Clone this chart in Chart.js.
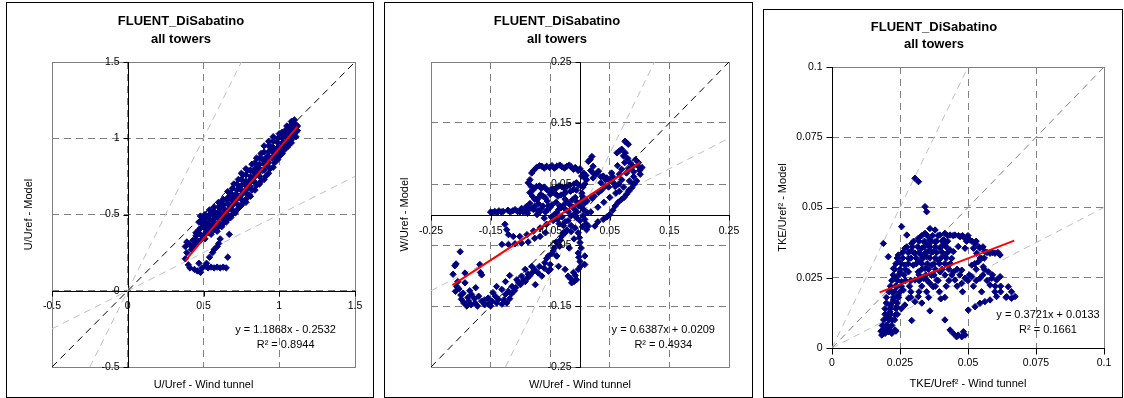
<!DOCTYPE html>
<html><head><meta charset="utf-8">
<script src="https://cdn.jsdelivr.net/npm/chart.js@4.4.1/dist/chart.umd.min.js"></script>
<style>
html,body{margin:0;padding:0;background:#fff;width:1124px;height:398px;overflow:hidden;}
.panel{position:absolute;border:1px solid #000;background:#fff;}
.panel canvas{display:block;}
</style></head><body>
<div class="panel" style="left:6px;top:2px;width:366px;height:394px"><canvas id="c1" width="366" height="394"></canvas></div>
<div class="panel" style="left:384px;top:2px;width:367px;height:394px"><canvas id="c2" width="367" height="394"></canvas></div>
<div class="panel" style="left:763px;top:9px;width:358px;height:387px"><canvas id="c3" width="358" height="387"></canvas></div>
<script>
// ---------- shared text ----------
const chartTitle = ['FLUENT_DiSabatino', 'all towers'];

// ---------- Panel 1 : U/Uref ----------
const uTicks = [-0.5, 0, 0.5, 1, 1.5];
const uTickLabels = ['-0.5', '0', '0.5', '1', '1.5'];
const uAxisTitles = ['U/Uref - Wind tunnel', 'U/Uref - Model'];
const uSlope = 1.1868, uIntercept = -0.2532;
const uTrendX = [0.38, 1.12];
const uEquation = ['y = 1.1868x - 0.2532', 'R² = 0.8944'];
const uPoints = [
 [0.38,0.21],[0.39,0.25],[0.38,0.29],[0.39,0.32],[0.41,0.30],[0.42,0.27],[0.43,0.33],[0.44,0.29],[0.45,0.36],[0.46,0.32],
 [0.47,0.40],[0.47,0.45],[0.48,0.49],[0.49,0.36],[0.50,0.42],[0.50,0.47],[0.51,0.34],[0.52,0.39],[0.52,0.48],[0.53,0.44],
 [0.54,0.50],[0.55,0.37],[0.55,0.41],[0.56,0.46],[0.57,0.52],[0.58,0.43],[0.58,0.49],[0.59,0.39],[0.60,0.45],[0.60,0.55],
 [0.61,0.50],[0.62,0.42],[0.62,0.58],[0.63,0.47],[0.64,0.53],[0.65,0.45],[0.65,0.60],[0.66,0.50],[0.67,0.56],[0.68,0.48],
 [0.68,0.64],[0.69,0.53],[0.70,0.60],[0.70,0.70],[0.71,0.51],[0.72,0.57],[0.72,0.66],[0.73,0.73],[0.74,0.55],[0.74,0.62],
 [0.75,0.69],[0.76,0.58],[0.76,0.76],[0.77,0.65],[0.78,0.72],[0.78,0.60],[0.79,0.79],[0.80,0.63],[0.80,0.69],[0.81,0.75],
 [0.82,0.83],[0.82,0.66],[0.83,0.72],[0.84,0.80],[0.85,0.69],[0.85,0.87],[0.86,0.76],[0.87,0.83],[0.88,0.72],[0.88,0.90],
 [0.89,0.79],[0.90,0.86],[0.90,0.95],[0.91,0.75],[0.92,0.82],[0.93,0.91],[0.93,0.98],[0.94,0.80],[0.95,0.87],[0.96,0.94],
 [0.96,1.01],[0.97,0.84],[0.98,0.90],[0.99,0.97],[1.00,0.88],[1.00,1.03],[1.01,0.94],[1.02,1.00],[1.03,0.92],[1.04,0.97],
 [1.04,1.05],[1.05,1.01],[1.06,0.95],[1.07,1.04],[1.07,1.08],[1.08,0.99],[1.09,1.03],[1.09,1.10],[1.10,1.06],[1.11,1.01],
 [1.11,1.09],[1.12,1.05],[1.12,1.08],[1.10,1.12],
 [0.53,0.38],[0.57,0.44],[0.64,0.49],[0.69,0.59],[0.75,0.63],[0.79,0.67],[0.84,0.75],[0.87,0.78],[0.92,0.88],[0.97,0.92],
 [1.02,0.97],[0.61,0.54],[0.66,0.57],[0.71,0.63],[0.77,0.70],[0.83,0.78],[0.86,0.82],[0.91,0.84],[0.95,0.93],[0.99,0.91],
 [1.03,1.02],[0.49,0.44],[0.56,0.50],[0.63,0.56],[0.67,0.62],[0.73,0.67],[0.81,0.71],[0.89,0.86],[0.94,0.95],[1.05,1.06],
 [0.45,0.31],[0.45,0.34],[0.45,0.38],[0.48,0.33],[0.48,0.37],[0.48,0.41],[0.48,0.46],[0.51,0.37],[0.51,0.41],[0.51,0.45],
 [0.51,0.50],[0.54,0.39],[0.54,0.43],[0.54,0.47],[0.54,0.53],[0.57,0.40],[0.57,0.47],[0.57,0.50],[0.57,0.55],[0.60,0.42],
 [0.60,0.48],[0.60,0.52],[0.60,0.58],[0.63,0.44],[0.63,0.50],[0.63,0.54],[0.63,0.60],[0.66,0.47],[0.66,0.53],[0.66,0.60],
 [0.66,0.65],[0.69,0.50],[0.69,0.56],[0.69,0.62],[0.69,0.67],[0.72,0.53],[0.72,0.60],[0.72,0.63],[0.72,0.70],[0.75,0.56],
 [0.75,0.60],[0.75,0.66],[0.75,0.73],[0.75,0.77],[0.78,0.58],[0.78,0.64],[0.78,0.69],[0.78,0.76],[0.78,0.80],[0.81,0.62],
 [0.81,0.68],[0.81,0.73],[0.81,0.79],[0.84,0.66],[0.84,0.71],[0.84,0.77],[0.84,0.84],[0.87,0.70],[0.87,0.75],[0.87,0.80],
 [0.87,0.87],[0.90,0.73],[0.90,0.79],[0.90,0.83],[0.90,0.91],[0.93,0.77],[0.93,0.84],[0.93,0.88],[0.93,0.95],[0.96,0.81],
 [0.96,0.88],[0.96,0.91],[0.96,0.98],[0.99,0.86],[0.99,0.94],[0.99,1.00],[1.02,0.90],[1.02,0.95],[1.02,1.04],[1.05,0.94],
 [1.05,0.98],[1.05,1.03],[1.05,1.08],[1.08,0.97],[1.08,1.02],[1.08,1.06],[1.08,1.11],[1.11,1.04],[1.11,1.07],
 [0.40,0.17],[0.41,0.15],[0.44,0.14],[0.46,0.13],[0.48,0.12],[0.49,0.15],[0.51,0.16],[0.53,0.15],[0.55,0.155],[0.57,0.15],
 [0.59,0.155],[0.61,0.15],[0.63,0.155],[0.65,0.15],[0.47,0.18],[0.52,0.18],[0.54,0.22],[0.56,0.25],[0.59,0.29],[0.61,0.34],
 [0.66,0.22],[0.67,0.37],[0.60,0.31],[0.57,0.27]
];
const uOneToOne = [[-0.5,-0.5],[1.5,1.5]];
const uTwoX = [[-0.25,-0.5],[0.75,1.5]];
const uHalfX = [[-0.5,-0.25],[1.5,0.75]];

// ---------- Panel 2 : W/Uref ----------
const wTicks = [-0.25, -0.15, -0.05, 0.05, 0.15, 0.25];
const wTickLabels = ['-0.25', '-0.15', '-0.05', '0.05', '0.15', '0.25'];
const wAxisTitles = ['W/Uref - Wind tunnel', 'W/Uref - Model'];
const wSlope = 0.6387, wIntercept = 0.0209;
const wTrendX = [-0.214, 0.101];
const wEquation = ['y = 0.6387x + 0.0209', 'R² = 0.4934'];
const wPoints = [
 [-0.213,-0.098],[-0.201,-0.061],[-0.208,-0.081],[-0.207,-0.118],[-0.209,-0.126],[-0.196,-0.129],[-0.199,-0.139],[-0.187,-0.142],
 [-0.176,-0.145],[-0.165,-0.142],[-0.154,-0.137],[-0.142,-0.134],[-0.131,-0.147],[-0.123,-0.145],[-0.170,-0.134],[-0.182,-0.131],
 [-0.193,-0.112],[-0.165,-0.099],[-0.146,-0.128],[-0.131,-0.123],[-0.120,-0.126],[-0.114,-0.118],[-0.106,-0.107],[-0.098,-0.101],
 [-0.087,-0.098],[-0.075,-0.115],[-0.070,-0.096],[-0.059,-0.079],[-0.064,-0.101],[-0.053,-0.068],[-0.039,-0.068],[-0.050,-0.090],
 [-0.036,-0.049],[-0.031,-0.036],[-0.022,-0.025],[-0.092,-0.090],[-0.081,-0.085],[-0.154,-0.147],[-0.168,-0.082],[-0.167,-0.095],
 [-0.193,-0.096],[-0.210,-0.084],[-0.160,-0.140],[-0.148,-0.142],[-0.137,-0.139],[-0.125,-0.131],[-0.110,-0.125],[-0.103,-0.112],
 [-0.095,-0.108],[-0.088,-0.104],[-0.079,-0.094],[-0.045,-0.060],[-0.188,-0.136],[-0.177,-0.138],
 [-0.195,-0.145],[-0.190,-0.150],[-0.183,-0.148],[-0.172,-0.150],[-0.160,-0.148],[-0.150,-0.150],[-0.140,-0.145],[-0.128,-0.140],
 [-0.118,-0.138],[-0.200,-0.132],[-0.203,-0.122],[-0.205,-0.110],[-0.185,-0.125],[-0.175,-0.120],
 [-0.115,-0.130],[-0.108,-0.120],[-0.100,-0.115],[-0.092,-0.110],[-0.084,-0.100],[-0.076,-0.090],[-0.068,-0.085],[-0.060,-0.088],
 [-0.056,-0.072],[-0.047,-0.064],[-0.043,-0.055],[-0.040,-0.045],[-0.028,-0.030],[-0.033,-0.042],[-0.125,-0.110],[-0.118,-0.100],
 [-0.140,-0.118],
 [-0.150,0.004],[-0.143,0.005],[-0.136,0.006],[-0.129,0.005],[-0.121,0.007],[-0.113,0.006],[-0.105,0.005],[-0.098,0.010],
 [-0.090,0.013],[-0.084,0.018],[-0.078,0.008],[-0.071,0.006],[-0.147,0.003],[-0.139,0.003],[-0.132,0.004],[-0.117,0.004],
 [-0.109,0.008],[-0.101,0.004],
 [-0.126,-0.016],[-0.123,-0.025],[-0.120,-0.033],[-0.112,-0.036],[-0.101,-0.036],[-0.089,-0.033],[-0.078,-0.027],[-0.067,-0.022],
 [-0.056,-0.016],[-0.045,-0.010],
 [-0.131,-0.049],[-0.120,-0.049],[-0.109,-0.048],[-0.098,-0.047],[-0.087,-0.045],[-0.076,-0.039],[-0.067,-0.036],[-0.058,-0.030],
 [-0.084,0.057],[-0.081,0.068],[-0.073,0.077],[-0.064,0.079],[-0.056,0.079],[-0.047,0.080],[-0.039,0.079],[-0.030,0.078],
 [-0.022,0.079],[-0.008,0.077],[-0.015,0.078],[0.006,0.068],[0.011,0.057],[0.000,0.075],
 [-0.078,0.072],[-0.068,0.080],[-0.060,0.076],[-0.051,0.077],[-0.043,0.076],[-0.034,0.081],[-0.026,0.076],[-0.018,0.081],
 [-0.011,0.074],[-0.003,0.072],[0.003,0.063],[0.008,0.050],[-0.087,0.052],[-0.082,0.046],[-0.079,0.040],
 [-0.073,0.046],[-0.056,0.041],[-0.039,0.044],[-0.022,0.046],[-0.006,0.052],[-0.065,0.043],[-0.047,0.042],[-0.030,0.045],
 [-0.068,0.047],[-0.060,0.045],[-0.052,0.039],[-0.043,0.041],[-0.035,0.047],[-0.026,0.043],[-0.017,0.048],[-0.010,0.050],
 [-0.002,0.048],
 [-0.084,0.036],[-0.076,0.025],[-0.062,0.030],[-0.045,0.036],[-0.028,0.033],[-0.011,0.041],[-0.053,0.014],[-0.034,0.014],
 [-0.022,0.021],[-0.070,0.027],[-0.037,0.030],[-0.080,0.030],[-0.072,0.024],[-0.066,0.033],[-0.058,0.027],[-0.050,0.033],
 [-0.041,0.034],[-0.032,0.032],[-0.024,0.036],[-0.016,0.038],[-0.006,0.040],
 [0.014,0.087],[0.022,0.079],[0.031,0.071],[0.039,0.063],[0.050,0.055],[0.059,0.046],[0.070,0.057],[0.078,0.068],
 [0.089,0.079],[0.098,0.085],[0.104,0.077],[0.101,0.066],[0.095,0.055],[0.087,0.044],[0.078,0.033],[0.070,0.025],
 [0.059,0.014],[0.050,0.000],[0.039,-0.008],[0.025,-0.019],[0.011,-0.025],[0.0755,0.120],[0.081,0.115],[0.070,0.107],
 [0.073,0.096],[0.062,0.101],[0.022,0.068],[0.022,0.060],[0.042,0.046],[0.031,0.036],[0.020,0.027],[0.008,0.019],
 [0.053,0.068],[0.070,0.074],[0.084,0.085],[0.093,0.090],[0.045,0.060],[0.035,0.052],[0.063,0.080],[0.075,0.085],
 [0.060,0.035],[0.050,0.028],[0.040,0.020],[0.030,0.012],[0.018,0.004],[0.014,-0.019],[0.008,-0.008],[0.020,0.095],
 [0.017,0.090],[0.005,0.045],[0.008,0.060],[0.003,0.035],
 [0.010,0.064],[0.018,0.072],[0.027,0.066],[0.035,0.062],[0.043,0.057],[0.055,0.062],[0.066,0.066],[0.082,0.075],
 [0.090,0.070],[0.097,0.080],[0.100,0.072],[0.012,0.022],[0.024,0.030],[0.036,0.040],[0.048,0.045],[0.056,0.052],
 [0.065,0.050],[0.073,0.045],[0.083,0.055],[0.090,0.062],[0.066,0.038],[0.082,0.038],[0.091,0.050],[0.030,-0.012],
 [0.045,-0.004],[0.055,0.007],[0.064,0.020],[0.074,0.028],[0.082,0.040],[0.089,0.050],[0.078,0.118],[0.066,0.104],
 [0.076,0.101],[0.080,0.092],
 [-0.003,-0.030],[0.000,-0.046],[-0.003,-0.063],[0.000,-0.077],[-0.003,-0.090],[-0.006,-0.107],[-0.014,-0.112],[-0.020,-0.101],
 [-0.025,-0.090],[-0.011,-0.095],[0.008,-0.068],[0.008,-0.082],[-0.039,-0.068],[-0.050,-0.082],[-0.053,-0.093],[-0.034,-0.052],
 [-0.036,-0.085],[-0.010,-0.110],[-0.018,-0.055],[-0.010,-0.040],[-0.001,-0.038],[0.002,-0.055],[-0.002,-0.070],[0.001,-0.085],
 [-0.008,-0.100],[-0.016,-0.105],[0.004,-0.020],[0.010,-0.015],[-0.025,-0.030],[-0.015,-0.028],[-0.008,-0.022],
 [-0.095,0.004],[-0.088,0.002],[-0.080,0.010],[-0.072,0.000],[-0.065,0.010],[-0.058,0.004],[-0.050,0.012],[-0.043,0.000],
 [-0.036,0.008],[-0.028,0.015],[-0.020,0.005],[-0.012,0.012],[-0.005,0.020],[0.003,0.012],[-0.060,-0.006],[-0.030,-0.004],
 [-0.015,-0.002],[-0.008,0.028],[0.004,0.030],[-0.070,0.018],[-0.055,0.022],[-0.040,0.020],[-0.025,0.025],[0.012,0.003],
 [-0.005,0.004],[-0.035,-0.015],[-0.025,-0.012],[-0.015,-0.018],[0.000,-0.010],[-0.010,0.000],[0.005,-0.002],
 [-0.092,0.007],[-0.085,0.009],[-0.076,0.013],[-0.068,0.004],[-0.062,0.014],[-0.054,0.008],[-0.047,0.016],[-0.039,0.003],
 [-0.032,0.011],[-0.024,0.008],[-0.017,0.016],[-0.009,0.008],[-0.002,0.014],[0.006,0.008],[-0.048,-0.004],[-0.038,-0.008],
 [-0.028,-0.018],[-0.020,-0.010],[-0.006,-0.005],[0.003,0.022],[-0.013,0.024]
];
const wOneToOne = [[-0.25,-0.25],[0.25,0.25]];
const wTwoX = [[-0.125,-0.25],[0.125,0.25]];
const wHalfX = [[-0.25,-0.125],[0.25,0.125]];

// ---------- Panel 3 : TKE/Uref² ----------
const kTicks = [0, 0.025, 0.05, 0.075, 0.1];
const kTickLabels = ['0', '0.025', '0.05', '0.075', '0.1'];
const kAxisTitles = ['TKE/Uref² - Wind tunnel', 'TKE/Uref² - Model'];
const kSlope = 0.3721, kIntercept = 0.0133;
const kTrendX = [0.0175, 0.067];
const kEquation = ['y = 0.3721x + 0.0133', 'R² = 0.1661'];
const kPoints = [
 [0.0305,0.0604],[0.0318,0.0592],[0.0342,0.0503],[0.0348,0.0485],[0.0256,0.0432],[0.0275,0.0402],[0.0189,0.0372],[0.0207,0.0325],
 [0.0244,0.0331],[0.0268,0.0355],[0.0293,0.0372],[0.0317,0.0390],[0.0342,0.0408],[0.0360,0.0425],[0.0379,0.0420],[0.0397,0.0402],
 [0.0415,0.0408],[0.0434,0.0402],[0.0452,0.0402],[0.0471,0.0396],[0.0489,0.0390],[0.0507,0.0384],[0.0526,0.0372],[0.0544,0.0355],
 [0.0562,0.0343],[0.0581,0.0337],[0.0599,0.0337],[0.0618,0.0331],
 [0.0415,0.0367],[0.0434,0.0349],[0.0440,0.0319],[0.0428,0.0295],[0.0447,0.0271],[0.0477,0.0277],[0.0514,0.0295],[0.0538,0.0307],
 [0.0550,0.0319],[0.0532,0.0337],[0.0556,0.0289],[0.0575,0.0271],[0.0544,0.0248],[0.0514,0.0254],[0.0587,0.0248],[0.0605,0.0242],
 [0.0618,0.0254],[0.0581,0.0224],[0.0599,0.0200],[0.0648,0.0218],[0.0660,0.0200],[0.0673,0.0183],[0.0660,0.0177],[0.0642,0.0183],
 [0.0477,0.0230],[0.0489,0.0248],[0.0452,0.0242],
 [0.0501,0.0135],[0.0526,0.0147],[0.0544,0.0159],[0.0562,0.0165],[0.0581,0.0171],[0.0605,0.0183],
 [0.0434,0.0064],[0.0446,0.0052],[0.0458,0.0040],[0.0477,0.0040],[0.0489,0.0046],[0.0483,0.0058],[0.0464,0.0046],
 [0.0415,0.0100],[0.0360,0.0132],[0.0293,0.0098],[0.0400,0.0175],
 [0.0183,0.0046],[0.0195,0.0052],[0.0207,0.0058],[0.0220,0.0052],[0.0232,0.0064],[0.0201,0.0082],[0.0220,0.0100],[0.0232,0.0117],
 [0.0213,0.0129],[0.0238,0.0147],[0.0226,0.0171],[0.0244,0.0188],[0.0220,0.0200],[0.0238,0.0218],[0.0256,0.0236],[0.0232,0.0248],
 [0.0250,0.0271],[0.0226,0.0283],[0.0268,0.0295],[0.0244,0.0307],[0.0281,0.0271],[0.0262,0.0206],[0.0281,0.0177],[0.0305,0.0165],
 [0.0268,0.0153],[0.0317,0.0183],[0.0348,0.0200],[0.0372,0.0218],[0.0190,0.0065],[0.0210,0.0075],[0.0215,0.0150],[0.0205,0.0110],
 [0.0281,0.0319],[0.0305,0.0337],[0.0330,0.0355],[0.0354,0.0367],[0.0379,0.0378],[0.0299,0.0295],[0.0323,0.0307],[0.0348,0.0325],
 [0.0372,0.0343],[0.0397,0.0355],[0.0317,0.0271],[0.0342,0.0283],[0.0366,0.0295],[0.0391,0.0313],[0.0415,0.0325],[0.0336,0.0248],
 [0.0366,0.0259],[0.0397,0.0271],[0.0305,0.0242],[0.0360,0.0230],[0.0385,0.0242],[0.0446,0.0343],[0.0464,0.0361],[0.0489,0.0355],
 [0.0520,0.0355],[0.0330,0.0330],[0.0355,0.0345],[0.0290,0.0345],[0.0360,0.0385],[0.0340,0.0375],[0.0410,0.0385],
 [0.0330,0.040],[0.0350,0.040],[0.0370,0.040],[0.0390,0.040],[0.0425,0.040],[0.0445,0.040],[0.0465,0.040],[0.0480,0.040],[0.0500,0.040],
 [0.0300,0.038],[0.0320,0.038],[0.0340,0.038],[0.0365,0.038],[0.0385,0.038],[0.0405,0.038],[0.0425,0.038],[0.0495,0.038],[0.0515,0.038],[0.0530,0.038],
 [0.0275,0.036],[0.0295,0.036],[0.0315,0.036],[0.0340,0.036],[0.0360,0.036],[0.0380,0.036],[0.0400,0.036],[0.0420,0.036],[0.0540,0.036],[0.0555,0.036],
 [0.0260,0.034],[0.0280,0.034],[0.0300,0.034],[0.0320,0.034],[0.0345,0.034],[0.0365,0.034],[0.0385,0.034],[0.0405,0.034],[0.0425,0.034],[0.0570,0.034],[0.0590,0.034],[0.0610,0.034],
 [0.0240,0.032],[0.0260,0.032],[0.0290,0.032],[0.0310,0.032],[0.0335,0.032],[0.0360,0.032],[0.0380,0.032],[0.0400,0.032],[0.0420,0.032],[0.0545,0.032],[0.0560,0.032],
 [0.0235,0.030],[0.0255,0.030],[0.0280,0.030],[0.0310,0.030],[0.0330,0.030],[0.0350,0.030],[0.0375,0.030],[0.0395,0.030],[0.0415,0.030],[0.0435,0.030],[0.0525,0.030],
 [0.0230,0.028],[0.0250,0.028],[0.0270,0.028],[0.0330,0.028],[0.0355,0.028],[0.0380,0.028],[0.0405,0.028],[0.0430,0.028],[0.0460,0.028],[0.0530,0.028],[0.0560,0.028],
 [0.0225,0.026],[0.0245,0.026],[0.0265,0.026],[0.0320,0.026],[0.0345,0.026],[0.0375,0.026],[0.0415,0.026],[0.0440,0.026],[0.0470,0.026],[0.0505,0.026],[0.0555,0.026],[0.0590,0.026],
 [0.0220,0.024],[0.0240,0.024],[0.0270,0.024],[0.0290,0.024],[0.0320,0.024],[0.0350,0.024],[0.0390,0.024],[0.0430,0.024],[0.0500,0.024],[0.0530,0.024],[0.0570,0.024],
 [0.0215,0.022],[0.0235,0.022],[0.0255,0.022],[0.0285,0.022],[0.0330,0.022],[0.0380,0.022],[0.0420,0.022],[0.0460,0.022],[0.0520,0.022],[0.0600,0.022],[0.0620,0.022],
 [0.0210,0.020],[0.0230,0.020],[0.0250,0.020],[0.0290,0.020],[0.0320,0.020],[0.0395,0.020],[0.0480,0.020],[0.0550,0.020],[0.0620,0.020],
 [0.0200,0.018],[0.0225,0.018],[0.0245,0.018],[0.0290,0.018],[0.0355,0.018],[0.0415,0.018],[0.0640,0.018],
 [0.0200,0.016],[0.0220,0.016],[0.0240,0.016],[0.0330,0.016],
 [0.0195,0.014],[0.0215,0.014],[0.0235,0.014],[0.0255,0.014],
 [0.0195,0.012],[0.0215,0.012],[0.0240,0.012],
 [0.0190,0.010],[0.0210,0.010],[0.0230,0.010],
 [0.0185,0.008],[0.0200,0.008],[0.0220,0.008],
 [0.0180,0.006],[0.0200,0.006],[0.0215,0.006],[0.0235,0.006]
];
const kOneToOne = [[0,0],[0.1,0.1]];
const kTwoX = [[0,0],[0.05,0.1]];
const kHalfX = [[0,0],[0.1,0.05]];

// ---------- helpers ----------
const FONT = '"Liberation Sans", Arial, Helvetica, sans-serif';
Chart.defaults.font.family = FONT;
const toXY = arr => arr.map(p => ({x: p[0], y: p[1]}));
const trendLine = (xs, m, b) => xs.map(x => ({x: x, y: m * x + b}));

function makeDeco(c) {
  return {
    id: 'deco',
    beforeDatasetsDraw(chart) {
      const {ctx, chartArea: a} = chart;
      const xs = chart.scales.x, ys = chart.scales.y;
      const X0 = Math.round(xs.getPixelForValue(c.cross[0])) + 0.5;
      const Y0 = Math.round(ys.getPixelForValue(c.cross[1])) + 0.5;
      ctx.save();
      ctx.setLineDash([]);
      ctx.lineWidth = 1;
      ctx.strokeStyle = '#808080';
      ctx.strokeRect(a.left + 0.5, a.top + 0.5, a.right - a.left, a.bottom - a.top);
      ctx.strokeStyle = '#000';
      ctx.beginPath();
      ctx.moveTo(a.left, Y0); ctx.lineTo(a.right + 1, Y0);
      ctx.moveTo(X0, a.top); ctx.lineTo(X0, a.bottom + 1);
      c.yTicks.forEach(v => { const p = Math.round(ys.getPixelForValue(v)) + 0.5; ctx.moveTo(X0 - c.tickLen, p); ctx.lineTo(X0, p); });
      c.xTicks.forEach(v => { const p = Math.round(xs.getPixelForValue(v)) + 0.5; ctx.moveTo(p, Y0); ctx.lineTo(p, Y0 + c.tickLen); });
      ctx.stroke();
      ctx.restore();
    },
    afterDatasetsDraw(chart) {
      const {ctx, chartArea: a} = chart;
      const xs = chart.scales.x, ys = chart.scales.y;
      const X0 = Math.round(xs.getPixelForValue(c.cross[0])) + 0.5;
      const Y0 = Math.round(ys.getPixelForValue(c.cross[1])) + 0.5;
      ctx.save();
      ctx.fillStyle = '#000';
      ctx.font = '10.5px ' + FONT;
      ctx.textBaseline = 'middle';
      ctx.textAlign = 'right';
      c.yTicks.forEach((v, i) => ctx.fillText(c.yLabels[i], X0 - c.labelGap, ys.getPixelForValue(v)));
      ctx.textAlign = 'center';
      c.xTicks.forEach((v, i) => ctx.fillText(c.xLabels[i], xs.getPixelForValue(v), Y0 + c.xLabelOff));
      ctx.font = '11px ' + FONT;
      ctx.fillText(c.equation[0], a.right - c.eq[0], a.bottom - c.eq[1]);
      ctx.fillText(c.equation[1], a.right - c.eq[0], a.bottom - c.eq[2]);
      ctx.restore();
    }
  };
}

function makeChart(id, c) {
  const axisTitleFont = {size: 11, family: FONT};
  return new Chart(document.getElementById(id), {
    type: 'scatter',
    data: {
      datasets: [
        {data: trendLine(c.trendX, c.slope, c.intercept), showLine: true, borderColor: '#ff0000', backgroundColor: '#ff0000', borderWidth: 2, pointRadius: 0, order: 0},
        {data: toXY(c.points), pointStyle: 'rectRot', pointRadius: 3.2, pointBorderWidth: 1, backgroundColor: '#000080', borderColor: '#000080', order: 1},
        {data: toXY(c.oneToOne), showLine: true, borderColor: c.diagColor, borderWidth: 1, borderDash: [7, 5], pointRadius: 0, order: 2},
        {data: toXY(c.twoX), showLine: true, borderColor: '#c0c0c0', borderWidth: 1, borderDash: [7, 5], pointRadius: 0, order: 3},
        {data: toXY(c.halfX), showLine: true, borderColor: '#c0c0c0', borderWidth: 1, borderDash: [7, 5], pointRadius: 0, order: 4}
      ]
    },
    options: {
      responsive: false,
      devicePixelRatio: 1,
      animation: false,
      events: [],
      layout: {padding: {left: 0, right: c.padRight, top: 0, bottom: 0}},
      plugins: {
        legend: {display: false},
        tooltip: {enabled: false},
        title: {display: true, text: chartTitle, color: '#000', font: {size: 13, weight: 'bold', family: FONT, lineHeight: c.titleLH + 'px'}, padding: {top: 9, bottom: c.titleBottom}}
      },
      scales: {
        x: {
          type: 'linear', min: c.xTicks[0], max: c.xTicks[c.xTicks.length - 1],
          afterBuildTicks: s => { s.ticks = c.xTicks.map(v => ({value: v})); },
          afterFit: s => { s.height = c.xScaleH; },
          ticks: {display: false},
          grid: {color: '#808080', lineWidth: 1, drawTicks: false},
          border: {display: false, dash: [7, 5]},
          title: {display: true, text: c.axisTitles[0], color: '#000', font: axisTitleFont, padding: {top: 0, bottom: c.xTitlePad}}
        },
        y: {
          type: 'linear', min: c.yTicks[0], max: c.yTicks[c.yTicks.length - 1],
          afterBuildTicks: s => { s.ticks = c.yTicks.map(v => ({value: v})); },
          afterFit: s => { s.width = c.yScaleW; },
          ticks: {display: false},
          grid: {color: '#808080', lineWidth: 1, drawTicks: false},
          border: {display: false, dash: [7, 5]},
          title: {display: true, text: c.axisTitles[1], color: '#000', font: axisTitleFont, padding: {top: c.yTitlePad, bottom: 0}}
        }
      }
    },
    plugins: [makeDeco(c)]
  });
}

makeChart('c1', {
  xTicks: uTicks, yTicks: uTicks, xLabels: uTickLabels, yLabels: uTickLabels, axisTitles: uAxisTitles,
  points: uPoints, slope: uSlope, intercept: uIntercept, trendX: uTrendX, equation: uEquation,
  oneToOne: uOneToOne, twoX: uTwoX, halfX: uHalfX, diagColor: '#000000', cross: [0, 0],
  padRight: 18, xScaleH: 30, yScaleW: 45, titleLH: 18, titleBottom: 14, xTitlePad: 5.4, yTitlePad: 15.4,
  tickLen: 5, labelGap: 9, xLabelOff: 15, eq: [69.4, 37, 22]
});
makeChart('c2', {
  xTicks: wTicks, yTicks: wTicks, xLabels: wTickLabels, yLabels: wTickLabels, axisTitles: wAxisTitles,
  points: wPoints, slope: wSlope, intercept: wIntercept, trendX: wTrendX, equation: wEquation,
  oneToOne: wOneToOne, twoX: wTwoX, halfX: wHalfX, diagColor: '#000000', cross: [0, 0],
  padRight: 23, xScaleH: 30, yScaleW: 46, titleLH: 18, titleBottom: 14, xTitlePad: 5.4, yTitlePad: 13.4,
  tickLen: 5, labelGap: 9, xLabelOff: 16, eq: [65.7, 37, 22]
});
makeChart('c3', {
  xTicks: kTicks, yTicks: kTicks, xLabels: kTickLabels, yLabels: kTickLabels, axisTitles: kAxisTitles,
  points: kPoints, slope: kSlope, intercept: kIntercept, trendX: kTrendX, equation: kEquation,
  oneToOne: kOneToOne, twoX: kTwoX, halfX: kHalfX, diagColor: '#808080', cross: [0, 0],
  padRight: 18, xScaleH: 49, yScaleW: 68, titleLH: 17, titleBottom: 14, xTitlePad: 6.4, yTitlePad: 12.4,
  tickLen: 6, labelGap: 10, xLabelOff: 15, eq: [56, 33, 18]
});
</script>
</body></html>
